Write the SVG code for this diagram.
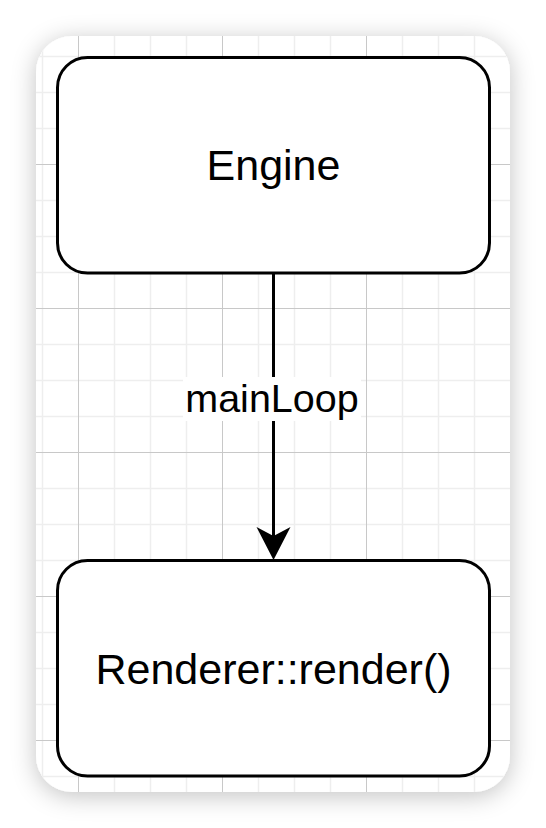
<svg xmlns="http://www.w3.org/2000/svg" width="546" height="828" viewBox="0 0 546 828">
  <defs>
    <filter id="cardShadow" x="-20%" y="-20%" width="140%" height="140%">
      <feDropShadow dx="0" dy="4" stdDeviation="12" flood-color="#000000" flood-opacity="0.24"/>
    </filter>
    <clipPath id="cardClip">
      <rect x="36" y="36" width="474" height="756" rx="36" ry="36"/>
    </clipPath>
    <style>
      .minor { stroke: #eeeeee; stroke-width: 1.5; }
      .major { stroke: #c8c8c8; stroke-width: 1; }
      .box { fill: #ffffff; stroke: #000000; stroke-width: 3; }
      .lbl { font-family: "Liberation Sans", Arial, Helvetica, sans-serif; fill: #000000; text-anchor: middle; }
      .edge { stroke: #000000; stroke-width: 3; fill: none; }
      .head { fill: #000000; }
    </style>
  </defs>

  <rect width="546" height="828" fill="#ffffff"/>
  <rect x="36" y="36" width="474" height="756" rx="36" ry="36" fill="#ffffff" filter="url(#cardShadow)"/>

  <g id="grid" clip-path="url(#cardClip)">
    <g class="minor">
      <path d="M42.5,36V792 M114.5,36V792 M150.5,36V792 M186.5,36V792 M258.5,36V792 M294.5,36V792 M330.5,36V792 M402.5,36V792 M438.5,36V792 M474.5,36V792"/>
      <path d="M36,56.5H510 M36,92.5H510 M36,128.5H510 M36,200.5H510 M36,236.5H510 M36,272.5H510 M36,344.5H510 M36,380.5H510 M36,416.5H510 M36,488.5H510 M36,524.5H510 M36,560.5H510 M36,632.5H510 M36,668.5H510 M36,704.5H510 M36,776.5H510"/>
    </g>
    <g class="major">
      <path d="M78.5,36V792 M222.5,36V792 M366.5,36V792 M510.5,36V792"/>
      <path d="M36,164.5H510 M36,308.5H510 M36,452.5H510 M36,596.5H510 M36,740.5H510"/>
    </g>
  </g>

  <g id="connectors">
    <path class="edge" d="M273.5,273 L273.5,540"/>
    <path class="head" d="M273.5,560 L256.5,527 L273.5,536 L290.5,527 Z"/>
    <g id="edge-label">
      <rect x="183" y="377" width="178" height="44" fill="#ffffff"/>
      <text class="lbl" x="272" y="411.5" font-size="39.5">mainLoop</text>
    </g>
  </g>

  <g id="node-engine">
    <rect class="box" x="57.5" y="57.5" width="432" height="215.5" rx="30" ry="30"/>
    <text class="lbl" x="273.5" y="180" font-size="43">Engine</text>
  </g>

  <g id="node-renderer">
    <rect class="box" x="57.5" y="560.5" width="432" height="215.5" rx="30" ry="30"/>
    <text class="lbl" x="273.5" y="683.5" font-size="43">Renderer::render()</text>
  </g>
</svg>
